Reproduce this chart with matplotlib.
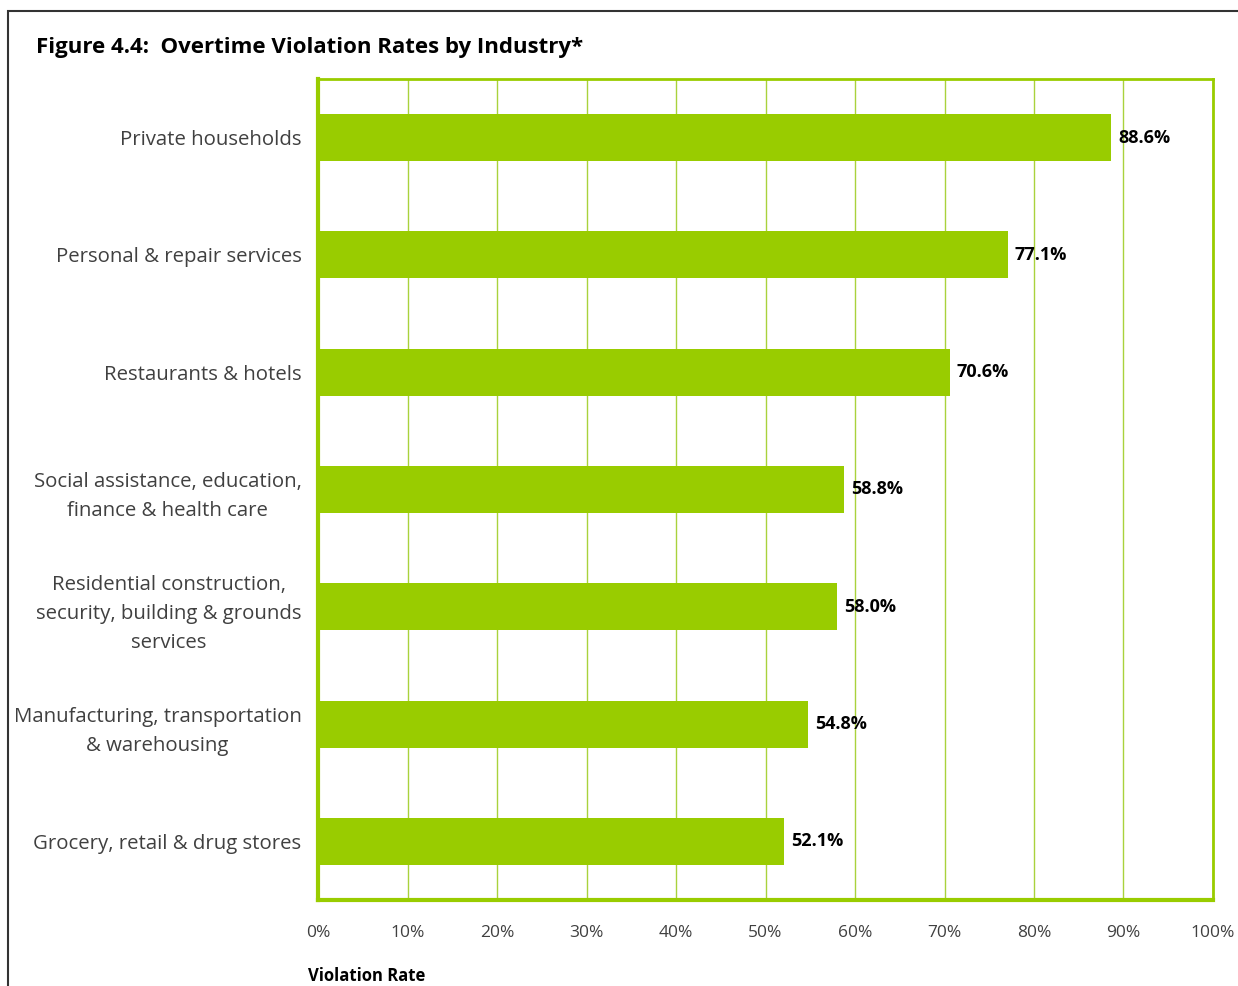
import matplotlib.pyplot as plt
from matplotlib.patches import Rectangle
from matplotlib.ticker import FuncFormatter

# overtime violation rate by industry (percent), listed top to bottom
industries = [
    "Private households",
    "Personal & repair services",
    "Restaurants & hotels",
    "Social assistance, education,\nfinance & health care",
    "Residential construction,\nsecurity, building & grounds\nservices",
    "Manufacturing, transportation\n& warehousing",
    "Grocery, retail & drug stores",
]
rates = [88.6, 77.1, 70.6, 58.8, 58.0, 54.8, 52.1]
xticks = [0, 10, 20, 30, 40, 50, 60, 70, 80, 90, 100]

green = "#99CC00"
grid_green = "#A9D23C"

plt.rcParams["font.family"] = ["Open Sans", "DejaVu Sans"]

fig = plt.figure(figsize=(12.38, 9.86), dpi=100)
ax = fig.add_axes([0.2569, 0.0872, 0.7229, 0.8327])

ypos = list(range(len(industries)))[::-1]
ax.barh(ypos, rates, height=0.40, color=green, zorder=3)

for y, v in zip(ypos, rates):
    ax.annotate(f"{v:.1f}%", (v, y), xytext=(5, 0), textcoords="offset points",
                ha="left", va="center", fontsize=13, fontweight="bold",
                color="black")

ax.set_xlim(0, 100)
ax.set_ylim(-0.5, len(industries) - 0.5)
ax.set_xticks(xticks)
ax.xaxis.set_major_formatter(FuncFormatter(lambda v, _: f"{v:.0f}%"))
ax.tick_params(axis="x", length=0, pad=18, labelsize=12.5, labelcolor="#404040")
ax.set_yticks(ypos)
ax.set_yticklabels(industries, fontsize=14.7, color="#404040",
                   linespacing=1.6, multialignment="center")
ax.tick_params(axis="y", length=0, pad=12)

ax.grid(axis="x", color=grid_green, linewidth=1.0, zorder=0)
ax.set_axisbelow(True)
for side, lw in (("left", 3), ("bottom", 3), ("top", 2), ("right", 2)):
    ax.spines[side].set_color(green)
    ax.spines[side].set_linewidth(lw)

fig.text(36 / 1238, 1 - 47 / 986, "Figure 4.4:  Overtime Violation Rates by Industry*",
         fontsize=16, fontweight="bold", ha="left", va="center")
fig.text(308 / 1238, 1 - 976 / 986, "Violation Rate",
         fontsize=12, fontweight="bold", ha="left", va="center")

# outer frame, running off the right and bottom edges
fig.patches.append(Rectangle((8 / 1238, -0.1), 1.2, 1 - 11 / 986 + 0.1,
                             transform=fig.transFigure, fill=False,
                             edgecolor="#333333", linewidth=1.5))

fig.savefig("out.png", dpi=100)
